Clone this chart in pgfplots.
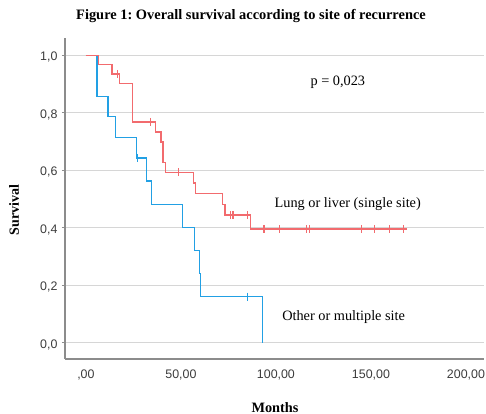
\documentclass[border=0pt]{standalone}
\usepackage{fontspec}
\setmainfont{Liberation Serif}
\newfontfamily\arialfont{Liberation Sans}
\usepackage{pgfplots}
\pgfplotsset{compat=1.18}
\definecolor{KMRed}{HTML}{F26B6E}
\definecolor{KMBlue}{HTML}{22A0E4}
\definecolor{KMGrid}{HTML}{D6D6D6}
\definecolor{KMSpine}{HTML}{8C8C8C}
\definecolor{KMTick}{HTML}{3C3C3C}
\frenchspacing

\begin{document}
\begin{tikzpicture}
\path[use as bounding box] (0,0) rectangle (486bp,414bp);
\begin{axis}[
  at={(65bp,55bp)}, anchor=south west,
  scale only axis,
  width=419bp, height=321bp,
  xmin=-11, xmax=209.5,
  ymin=-0.056, ymax=1.06,
  axis lines*=left,
  axis line style={draw=KMSpine,line width=1.5pt,-},
  xtick={0,50,100,150,200},
  xticklabels={{,00},{50,00},{100,00},{150,00},{200,00}},
  ytick={0,0.2,0.4,0.6,0.8,1},
  yticklabels={{0,0},{0,2},{0,4},{0,6},{0,8},{1,0}},
  ymajorgrids,
  grid style={draw=KMGrid,line width=1.1pt},
  tick align=outside,
  major tick length=3bp,
  x tick style={draw=none},
  y tick style={draw=KMSpine,line width=0.8pt},
  tick label style={font=\arialfont\fontsize{12.4bp}{14bp}\selectfont,text=KMTick},
  /pgf/number format/assume math mode=true,
  xticklabel style={yshift=-4bp},
  yticklabel style={xshift=-1bp,yshift=-2bp},
  clip=false
]
% Other or multiple site
\addplot[const plot,draw=KMBlue,line width=1.3pt] coordinates {
  (0,1) (5.9,0.857) (11.6,0.786) (15.6,0.714) (26.5,0.643) (32.0,0.5625)
  (34.4,0.482) (50.7,0.402) (57.2,0.321) (59.9,0.241) (60.4,0.161) (92.8,0)
};
\addplot[only marks,mark=|,mark size=4bp,draw=KMBlue,line width=1.2pt] coordinates {
  (27.2,0.643) (84.9,0.161)
};
% Lung or liver (single site)
\addplot[const plot,draw=KMRed,line width=1.3pt] coordinates {
  (0,1) (6.5,0.968) (13.8,0.935) (17.7,0.902) (24.6,0.768) (36.8,0.733)
  (39.5,0.698) (40.5,0.628) (41.9,0.593) (56.8,0.556) (57.7,0.519)
  (71.7,0.482) (73.2,0.445) (86.5,0.396) (169,0.396)
};
\addplot[only marks,mark=|,mark size=4bp,draw=KMRed,line width=1.2pt] coordinates {
  (16.8,0.935) (34.2,0.768) (48.6,0.593) (76.2,0.445) (77.4,0.445) (85.0,0.445)
  (93.7,0.396) (102,0.396) (116,0.396) (117.7,0.396) (145,0.396) (152,0.396)
  (159.8,0.396) (167,0.396)
};
\node[anchor=center,font=\fontsize{14.3bp}{16bp}\selectfont] at (axis cs:132.6,0.906) {p = 0,023};
\node[anchor=west,font=\fontsize{14.3bp}{16bp}\selectfont] at (axis cs:97.5,0.483) {Lung or liver (single site)};
\node[anchor=west,font=\fontsize{14.3bp}{16bp}\selectfont] at (axis cs:101.5,0.091) {Other or multiple site};
\end{axis}
\node[font=\bfseries\fontsize{14.4bp}{16bp}\selectfont] at (251bp,398bp) {Figure 1: Overall survival according to site of recurrence};
\node[anchor=base,inner sep=0pt,font=\bfseries\fontsize{14.3bp}{16bp}\selectfont] at (275bp,2bp) {Months};
\node[font=\bfseries\fontsize{14bp}{16bp}\selectfont,rotate=90] at (14bp,204bp) {Survival};
\end{tikzpicture}
\end{document}
